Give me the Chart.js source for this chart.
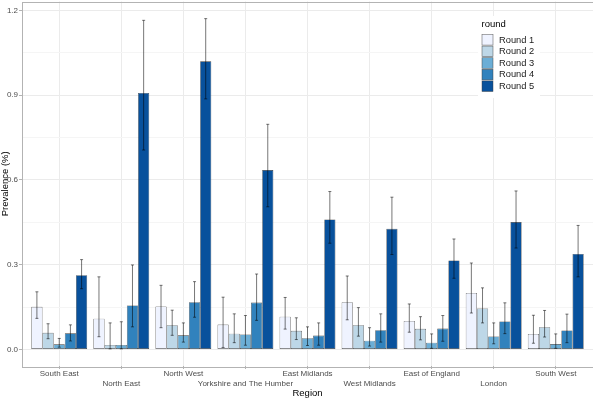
<!DOCTYPE html>
<html><head><meta charset="utf-8">
<script src="https://cdn.jsdelivr.net/npm/chart.js@4.4.1/dist/chart.umd.min.js"></script>
<style>html,body{margin:0;padding:0;background:#fff;overflow:hidden}</style>
</head><body>
<canvas id="c" width="593" height="398"></canvas>
<script>
const categories = ["South East","North East","North West","Yorkshire and The Humber","East Midlands","West Midlands","East of England","London","South West"];
const roundLabels = ["Round 1","Round 2","Round 3","Round 4","Round 5"];
const yTicks = [0, 0.15, 0.3, 0.45, 0.6, 0.75, 0.9, 1.05, 1.2];

const round1   = [0.151, 0.109, 0.152, 0.088, 0.116, 0.167, 0.101, 0.200, 0.055];
const round1Lo = [0.110, 0.045, 0.077, 0.007, 0.072, 0.105, 0.061, 0.129, 0.022];
const round1Hi = [0.204, 0.257, 0.227, 0.185, 0.184, 0.260, 0.161, 0.306, 0.121];

const round2   = [0.059, 0.016, 0.086, 0.056, 0.066, 0.086, 0.073, 0.145, 0.079];
const round2Lo = [0.038, 0.002, 0.050, 0.024, 0.035, 0.047, 0.034, 0.094, 0.044];
const round2Hi = [0.091, 0.094, 0.139, 0.126, 0.112, 0.148, 0.116, 0.218, 0.138];

const round3   = [0.018, 0.016, 0.050, 0.053, 0.040, 0.031, 0.024, 0.046, 0.019];
const round3Lo = [0.008, 0.002, 0.026, 0.015, 0.014, 0.012, 0.004, 0.020, 0.004];
const round3Hi = [0.039, 0.098, 0.094, 0.120, 0.080, 0.077, 0.055, 0.094, 0.055];

const round4   = [0.057, 0.156, 0.167, 0.166, 0.049, 0.068, 0.074, 0.099, 0.067];
const round4Lo = [0.030, 0.080, 0.114, 0.103, 0.015, 0.026, 0.029, 0.056, 0.024];
const round4Hi = [0.087, 0.299, 0.240, 0.267, 0.094, 0.126, 0.120, 0.165, 0.125];

const round5   = [0.263, 0.908, 1.020, 0.635, 0.460, 0.427, 0.315, 0.451, 0.338];
const round5Lo = [0.215, 0.706, 0.887, 0.505, 0.376, 0.336, 0.252, 0.359, 0.257];
const round5Hi = [0.318, 1.165, 1.171, 0.797, 0.559, 0.539, 0.391, 0.561, 0.439];

const values = [round1, round2, round3, round4, round5];
const lows = [round1Lo, round2Lo, round3Lo, round4Lo, round5Lo];
const highs = [round1Hi, round2Hi, round3Hi, round4Hi, round5Hi];
const colors = ["#eff3ff", "#bdd7e7", "#6baed6", "#3182bd", "#08519c"];

const FONT = "'Liberation Sans', Arial, Helvetica, sans-serif";

const errorBars = {
  id: 'errorBars',
  afterDatasetsDraw(chart) {
    const ctx = chart.ctx, y = chart.scales.y;
    ctx.save();
    ctx.strokeStyle = 'rgba(0,0,0,0.6)';
    ctx.lineWidth = 0.9;
    chart.data.datasets.forEach((ds, k) => {
      const meta = chart.getDatasetMeta(k);
      meta.data.forEach((bar, i) => {
        const x = bar.x;
        const yl = y.getPixelForValue(lows[k][i]);
        const yh = y.getPixelForValue(highs[k][i]);
        ctx.beginPath();
        ctx.moveTo(x, yl); ctx.lineTo(x, yh);
        ctx.moveTo(x - 1.5, yl); ctx.lineTo(x + 1.5, yl);
        ctx.moveTo(x - 1.5, yh); ctx.lineTo(x + 1.5, yh);
        ctx.stroke();
      });
    });
    ctx.restore();
  }
};

const panelAndLegend = {
  id: 'panelAndLegend',
  afterDraw(chart) {
    const ctx = chart.ctx, a = chart.chartArea;
    ctx.save();
    ctx.strokeStyle = '#b3b3b3';
    ctx.lineWidth = 1;
    ctx.strokeRect(Math.round(a.left) + 0.5, Math.round(a.top) + 0.5, Math.round(a.right - a.left), Math.round(a.bottom - a.top));
    // legend
    ctx.fillStyle = '#ffffff';
    ctx.fillRect(478, 16, 62, 82);
    ctx.fillStyle = '#000000';
    ctx.font = '9.5px ' + FONT;
    ctx.textBaseline = 'middle';
    ctx.textAlign = 'left';
    ctx.fillText('round', 481.5, 24.5);
    ctx.font = '9.3px ' + FONT;
    roundLabels.forEach((lab, k) => {
      const top = 34.5 + k * 11.6;
      ctx.fillStyle = colors[k];
      ctx.fillRect(482, top, 11, 10.6);
      ctx.strokeStyle = 'rgba(60,60,60,0.75)';
      ctx.lineWidth = 0.6;
      ctx.strokeRect(482, top, 11, 10.6);
      ctx.fillStyle = '#1a1a1a';
      ctx.fillText(lab, 499, top + 5.6);
    });
    ctx.restore();
  }
};

new Chart(document.getElementById('c'), {
  type: 'bar',
  data: {
    datasets: values.map((vals, k) => ({
      label: roundLabels[k],
      data: vals.map((v, i) => ({ x: i, y: v })),
      backgroundColor: colors[k],
      borderColor: 'rgba(25,25,25,0.85)',
      borderWidth: 0.6,
      borderSkipped: false,
      categoryPercentage: 0.9,
      barPercentage: 1.0
    }))
  },
  options: {
    responsive: false,
    animation: false,
    devicePixelRatio: 1,
    layout: { padding: { top: 1.5, left: 0, right: 0, bottom: 0 } },
    plugins: { legend: { display: false }, tooltip: { enabled: false } },
    scales: {
      x: {
        type: 'linear',
        offset: false,
        min: -0.6, max: 8.6,
        afterBuildTicks: ax => { ax.ticks = categories.map((_, i) => ({ value: i })); },
        afterFit: s => { s.height = 32; s.paddingLeft = 0; s.paddingRight = 0; },
        ticks: {
          callback: (v, i) => (i % 2 === 0 ? categories[i] : ['', categories[i]]),
          font: { family: FONT, size: 8, lineHeight: 1.25 },
          color: '#4d4d4d',
          padding: 0,
          minRotation: 0, maxRotation: 0,
          autoSkip: false
        },
        grid: { offset: false, color: '#ebebeb', lineWidth: 1, drawTicks: true, tickLength: 3, tickColor: '#b3b3b3' },
        border: { display: false },
        title: { display: true, text: 'Region', color: '#000', font: { family: FONT, size: 9.5, lineHeight: 1 }, padding: { top: 0, bottom: 0 } }
      },
      y: {
        min: -0.0586, max: 1.2317,
        afterBuildTicks: ax => { ax.ticks = yTicks.map(v => ({ value: v })); },
        afterFit: s => { s.width = 22; s.paddingTop = 0; s.paddingBottom = 0; },
        ticks: {
          callback: (v, i) => (i % 2 === 0 ? v.toFixed(1) : ''),
          font: { family: FONT, size: 8 },
          color: '#4d4d4d',
          padding: 1
        },
        grid: {
          color: c => (c.index % 2 ? '#f5f5f5' : '#ebebeb'),
          lineWidth: 1, drawTicks: true, tickLength: 3,
          tickColor: c => (c.index % 2 ? 'rgba(0,0,0,0)' : '#b3b3b3')
        },
        border: { display: false },
        title: { display: true, text: 'Prevalence (%)', color: '#000', font: { family: FONT, size: 9.5, lineHeight: 1 }, padding: { top: 0.5, bottom: 0 } }
      }
    }
  },
  plugins: [errorBars, panelAndLegend]
});
</script>
</body></html>
